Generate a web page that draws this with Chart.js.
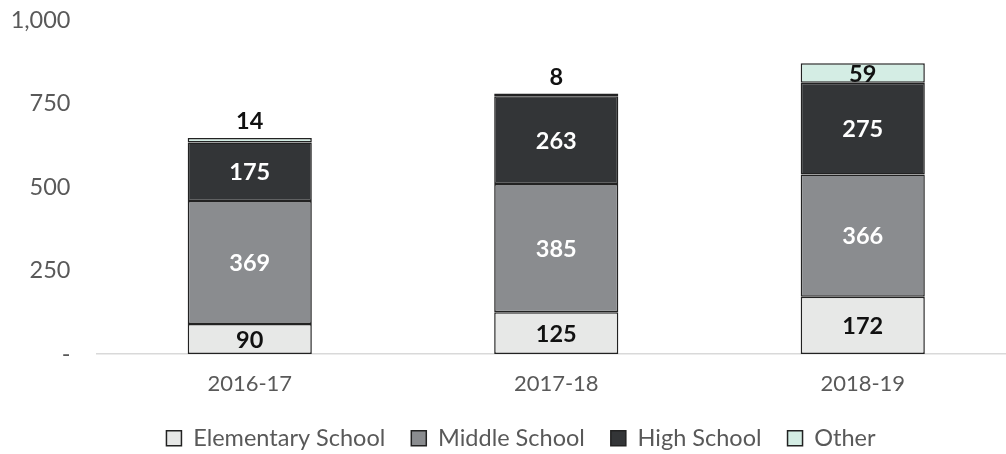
<!DOCTYPE html>
<html>
<head>
<meta charset="utf-8">
<script src="https://cdn.jsdelivr.net/npm/chart.js@4"></script>
<style>
  html, body { margin: 0; padding: 0; background: #fff; overflow: hidden; }
  #wrap { width: 1016px; height: 454px; }
</style>
</head>
<body>
<div id="wrap"><canvas id="enrollChart" width="1016" height="454"></canvas></div>
<script>
// ===============================
// DATA
// ===============================
const years = ['2016-17', '2017-18', '2018-19'];
const elementary = [90, 125, 172];
const middle = [369, 385, 366];
const high = [175, 263, 275];
const other = [14, 8, 59];
const yTicks = [0, 250, 500, 750, 1000];

const GRAY_TEXT = '#595959';
const FONT = 'Lato, "Open Sans", sans-serif';
const FS = 23.5;

// labels drawn on each segment
const segmentLabels = {
    id: 'segmentLabels',
    afterLayout(chart) {
        // legend sits a little right of the canvas centre in the original
        if (chart.legend) {
            chart.legend.left += 13;
            chart.legend.right += 13;
        }
    },
    afterDatasetsDraw(chart) {
        const ctx = chart.ctx;
        ctx.save();
        ctx.font = 'bold ' + FS + 'px ' + FONT;
        ctx.textAlign = 'center';
        ctx.textBaseline = 'middle';
        chart.data.datasets.forEach((ds, i) => {
            const meta = chart.getDatasetMeta(i);
            meta.data.forEach((bar, j) => {
                const val = ds.data[j];
                const h = Math.abs(bar.base - bar.y);
                let y = (bar.y + bar.base) / 2;
                if (h < 18) y = bar.y - 17;
                ctx.fillStyle = ds.labelColor;
                ctx.fillText(String(val), bar.x, y + 1);
            });
        });
        ctx.restore();
    }
};

function makeSet(label, data, fill, labelColor) {
    return {
        label: label,
        data: data,
        backgroundColor: fill,
        borderColor: '#222222',
        borderWidth: 1.5,
        borderSkipped: false,
        barPercentage: 0.405,
        categoryPercentage: 1,
        labelColor: labelColor
    };
}

new Chart(document.getElementById('enrollChart'), {
    type: 'bar',
    data: {
        labels: years,
        datasets: [
            makeSet('Elementary School', elementary, '#e7e8e7', '#111111'),
            makeSet('Middle School', middle, '#8a8c8f', '#ffffff'),
            makeSet('High School', high, '#333537', '#ffffff'),
            makeSet('Other', other, '#d4ede4', '#111111')
        ]
    },
    options: {
        responsive: false,
        animation: false,
        layout: { padding: { top: 20.5, left: 0, right: 0, bottom: 0 } },
        plugins: {
            tooltip: { enabled: false },
            legend: {
                position: 'bottom',
                maxHeight: 53.5,
                labels: {
                    boxWidth: 15,
                    boxHeight: 15,
                    padding: 26,
                    color: GRAY_TEXT,
                    font: { family: FONT, size: FS }
                }
            }
        },
        scales: {
            x: {
                stacked: true,
                afterFit(scale) { scale.height = 46.5; },
                grid: { display: false, drawTicks: false },
                border: { display: true, color: '#d9d9d9', width: 1.5 },
                ticks: { color: GRAY_TEXT, font: { family: FONT, size: 22 }, padding: 17 }
            },
            y: {
                stacked: true,
                min: 0,
                max: 1000,
                afterFit(scale) {
                    scale.width = 96.5;
                    scale.paddingTop = 0;
                    scale.paddingBottom = 0;
                },
                afterBuildTicks(scale) { scale.ticks = yTicks.map(v => ({ value: v })); },
                grid: { display: false, drawTicks: false },
                border: { display: false },
                ticks: {
                    padding: 26,
                    color: GRAY_TEXT,
                    font: { family: FONT, size: FS },
                    callback: (v) => v === 0 ? '-' : v.toLocaleString('en-US')
                }
            }
        }
    },
    plugins: [segmentLabels]
});
</script>
</body>
</html>
